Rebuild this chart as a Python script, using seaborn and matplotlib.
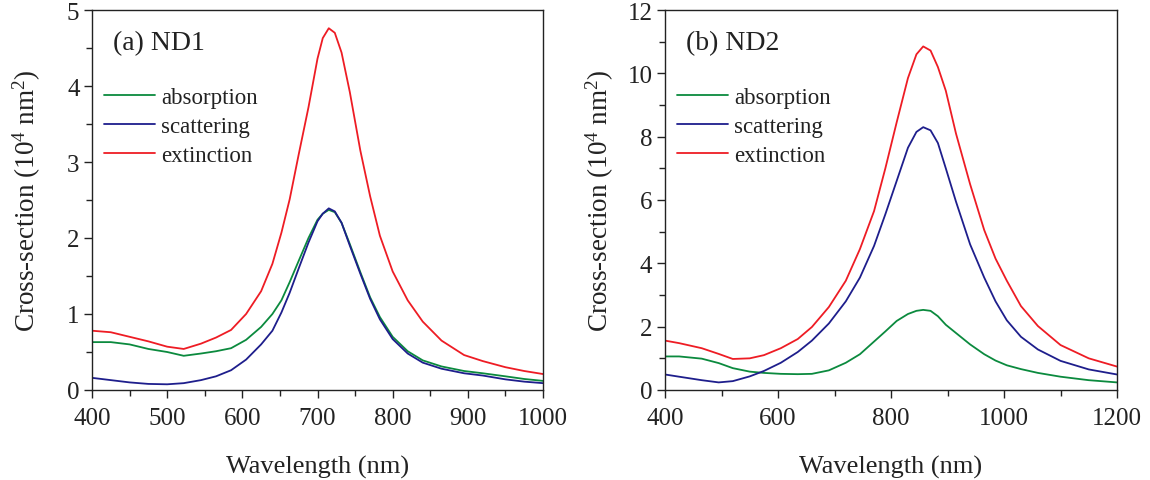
import numpy as np
import pandas as pd
import matplotlib
matplotlib.use("Agg")
import matplotlib.pyplot as plt
import seaborn as sns
from matplotlib.ticker import MultipleLocator

# ---------------- data ----------------
series_names = ["absorption", "scattering", "extinction"]

# (a) ND1
wl_nd1 = [400, 425, 450, 475, 500, 522, 545, 565, 585, 605, 625, 640, 652, 663, 675,
          688, 700, 707, 715, 723, 732, 743, 757, 770, 783, 800, 820, 840, 865, 895,
          920, 950, 975, 1000]
abs_nd1 = [0.63, 0.63, 0.60, 0.54, 0.50, 0.45, 0.48, 0.51, 0.55, 0.66, 0.83, 1.00, 1.18, 1.42, 1.70,
           2.00, 2.24, 2.32, 2.37, 2.34, 2.20, 1.92, 1.55, 1.22, 0.96, 0.70, 0.51, 0.39, 0.31, 0.25,
           0.22, 0.18, 0.145, 0.12]
sca_nd1 = [0.16, 0.13, 0.10, 0.08, 0.075, 0.09, 0.13, 0.18, 0.26, 0.40, 0.60, 0.78, 1.02, 1.28, 1.60,
           1.94, 2.22, 2.32, 2.39, 2.35, 2.20, 1.90, 1.53, 1.20, 0.93, 0.67, 0.48, 0.36, 0.28, 0.22,
           0.19, 0.14, 0.11, 0.09]
ext_nd1 = [0.78, 0.76, 0.70, 0.64, 0.57, 0.54, 0.61, 0.69, 0.79, 1.00, 1.30, 1.66, 2.07, 2.51, 3.10,
           3.72, 4.36, 4.63, 4.76, 4.70, 4.44, 3.92, 3.15, 2.55, 2.03, 1.56, 1.18, 0.90, 0.65, 0.46,
           0.38, 0.30, 0.25, 0.21]

# (b) ND2
wl_nd2 = [400, 425, 465, 495, 520, 550, 575, 605, 635, 660, 690, 720, 745, 770, 790, 810,
          830, 845, 857, 870, 883, 897, 915, 940, 965, 985, 1005, 1030, 1060, 1100, 1150, 1200]
abs_nd2 = [1.06, 1.06, 0.99, 0.85, 0.69, 0.58, 0.54, 0.51, 0.50, 0.51, 0.62, 0.86, 1.13, 1.53, 1.85, 2.18,
           2.40, 2.50, 2.53, 2.50, 2.33, 2.06, 1.80, 1.44, 1.13, 0.93, 0.78, 0.66, 0.54, 0.42, 0.31, 0.24]
sca_nd2 = [0.49, 0.42, 0.31, 0.24, 0.28, 0.43, 0.60, 0.86, 1.20, 1.56, 2.10, 2.80, 3.55, 4.55, 5.55, 6.60,
           7.65, 8.15, 8.30, 8.20, 7.80, 7.00, 5.95, 4.60, 3.55, 2.80, 2.20, 1.68, 1.28, 0.92, 0.65, 0.49]
ext_nd2 = [1.56, 1.48, 1.32, 1.14, 0.98, 1.00, 1.10, 1.32, 1.61, 1.99, 2.62, 3.45, 4.45, 5.65, 7.00, 8.45,
           9.85, 10.60, 10.85, 10.72, 10.20, 9.45, 8.10, 6.50, 5.05, 4.15, 3.45, 2.65, 2.02, 1.42, 1.00, 0.74]

panel_titles = ["(a) ND1", "(b) ND2"]
xlabel_text = "Wavelength (nm)"
ylabel_text = r"Cross-section (10$^4$ nm$^2$)"

# ---------------- style ----------------
sns.set_style("ticks")
plt.rcParams["font.family"] = ["Liberation Serif", "DejaVu Serif"]
plt.rcParams["mathtext.fontset"] = "custom"
plt.rcParams["mathtext.rm"] = "Liberation Serif"
plt.rcParams["mathtext.it"] = "Liberation Serif:italic"
plt.rcParams["mathtext.default"] = "regular"

palette = {"absorption": "#0b8a3e", "scattering": "#1e1e8c", "extinction": "#ee1c24"}
ink = "#222222"


def long_df(wl, a, s, e):
    frames = []
    for name, vals in zip(series_names, [a, s, e]):
        frames.append(pd.DataFrame({"wavelength": wl, "value": vals, "type": name}))
    return pd.concat(frames, ignore_index=True)


df1 = long_df(wl_nd1, abs_nd1, sca_nd1, ext_nd1)
df2 = long_df(wl_nd2, abs_nd2, sca_nd2, ext_nd2)

fig = plt.figure(figsize=(11.5, 4.81), dpi=100)
ax1 = fig.add_axes([92 / 1150, 1 - 391 / 481, 451 / 1150, 380 / 481])
ax2 = fig.add_axes([665 / 1150, 1 - 391 / 481, 452 / 1150, 380 / 481])

configs = [
    (ax1, df1, (400, 1000), 100, 50, (0, 5), 1, 0.5),
    (ax2, df2, (400, 1200), 200, 100, (0, 12), 2, 1),
]

for i, (ax, df, xlim, xmaj, xmin, ylim, ymaj, ymin) in enumerate(configs):
    sns.lineplot(data=df, x="wavelength", y="value", hue="type", palette=palette,
                 hue_order=series_names, ax=ax, linewidth=1.3, sort=False,
                 estimator=None)
    ax.set_xlim(*xlim)
    ax.set_ylim(*ylim)
    ax.xaxis.set_major_locator(MultipleLocator(xmaj))
    ax.xaxis.set_minor_locator(MultipleLocator(xmin))
    ax.yaxis.set_major_locator(MultipleLocator(ymaj))
    ax.yaxis.set_minor_locator(MultipleLocator(ymin))
    ax.tick_params(which="major", direction="out", length=6, width=1.0,
                   labelsize=18, colors=ink, labelcolor=ink,
                   top=False, right=False)
    ax.tick_params(axis="x", which="major", pad=6)
    ax.tick_params(axis="y", which="major", pad=3)
    ax.tick_params(which="minor", direction="out", length=4, width=1.0,
                   top=False, right=False, colors=ink)
    for sp in ax.spines.values():
        sp.set_visible(True)
        sp.set_linewidth(1.0)
        sp.set_color(ink)
    ax.set_xlabel(xlabel_text, fontsize=19, labelpad=19, color=ink)
    ax.set_ylabel(ylabel_text, fontsize=19.5, color=ink)
    ax.yaxis.set_label_coords(-49 / 451, 0.5)
    ax.text(0.047, 0.914, panel_titles[i], transform=ax.transAxes, fontsize=20,
            ha="left", va="center", color=ink)
    leg = ax.legend(loc="upper left", bbox_to_anchor=(0.027, 0.797), frameon=False,
                    fontsize=16.5, handlelength=2.2, handletextpad=0.3,
                    labelspacing=0.34, borderaxespad=0, borderpad=0)
    for t in leg.get_texts():
        t.set_color(ink)
    for lh in leg.get_lines():
        lh.set_linewidth(1.3)

fig.savefig("out.png", dpi=100)
